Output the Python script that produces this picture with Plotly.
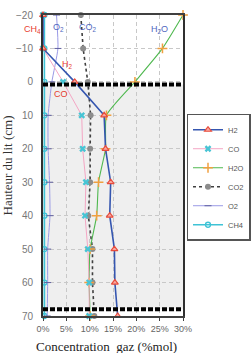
import plotly.graph_objects as go

heights = [-20, -10, 0, 10, 20, 30, 40, 50, 60, 70]
h2 = [0, 0, 6.8, 13.1, 13.4, 14.5, 14.3, 15.3, 15.4, 16.0]
co = [0, 0, 4.3, 8.3, 8.5, 9.2, 9.0, 9.6, 9.9, 9.9]
h2o = [30, 25.6, 19.7, 13.6, 13.4, 11.9, 11.5, 10.1, 9.9, 10.1]
co2 = [8.1, 8.6, 9.6, 10.2, 10.1, 10.1, 9.7, 10.6, 10.6, 11.0]
o2 = [2.9, 3.2, 1.9, 1.1, 1.1, 1.4, 1.5, 1.0, 1.0, 0.9]
ch4 = [0.3, 0.3, 0.3, 0.3, 0.3, 0.3, 0.3, 0.3, 0.3, 0.3]
x_ticks = [0, 5, 10, 15, 20, 25, 30]
x_ticktext = ["0%", "5%", "10%", "15%", "20%", "25%", "30%"]
y_ticks = [-20, -10, 0, 10, 20, 30, 40, 50, 60, 70]
bed_top, bed_bottom = 0.8, 68

fig = go.Figure()

def add(name, x, color, width, marker, dash="solid", shape="linear"):
    fig.add_trace(go.Scatter(
        x=x, y=heights, name=name, mode="lines+markers",
        line=dict(color=color, width=width, dash=dash, shape=shape, smoothing=0.5),
        marker=marker, cliponaxis=False, legendgroup=name))

add("CH4", ch4, "#3fc3d6", 1.6,
    dict(symbol="circle-open", size=5, color="#3fc3d6", line=dict(width=1.3)))
add("O2", o2, "#9a9ae6", 1.0,
    dict(symbol="line-ew", size=5, color="#6060a0", line=dict(width=1, color="#6060a0")), shape="spline")
add("CO2", co2, "#404040", 1.6,
    dict(symbol="circle", size=6, color="#8c8c8c"), dash="dot")
add("H2O", h2o, "#4fb84f", 1.1,
    dict(symbol="cross-thin", size=7, color="#f0a040", line=dict(width=1.5, color="#f0a040")), shape="spline")
add("CO", co, "#f4a6c4", 1.0,
    dict(symbol="x", size=6, color="#48c4d4", line=dict(width=0)))
add("H2", h2, "#3556b0", 1.6,
    dict(symbol="triangle-up", size=6, color="#f8a8a0", line=dict(width=1.2, color="#e84c3c")))

shapes = [
    dict(type="rect", xref="x", yref="y", x0=0, x1=30, y0=bed_top, y1=bed_bottom,
         fillcolor="#efefef", line=dict(width=0), layer="below"),
    dict(type="line", xref="x", yref="y", x0=0, x1=30, y0=bed_top, y1=bed_top,
         line=dict(color="black", width=4, dash="5px,2px")),
    dict(type="line", xref="x", yref="y", x0=0, x1=30, y0=bed_bottom, y1=bed_bottom,
         line=dict(color="black", width=4, dash="5px,2px")),
]

def lab(text, x, y, color, xref="x"):
    return dict(text=text, x=x, y=y, xref=xref, yref="y", showarrow=False,
                font=dict(family="Arial, Liberation Sans", size=9, color=color))

annotations = [
    lab("CH<sub>4</sub>", -0.15, -15.6, "#e84030", xref="paper"),
    lab("O<sub>2</sub>", 3.4, -16.3, "#5068c0"),
    lab("CO<sub>2</sub>", 9.6, -16.3, "#5068c0"),
    lab("H<sub>2</sub>", 5.3, -5.2, "#e84030"),
    lab("CO", 3.9, 3.6, "#e84030"),
    lab("H<sub>2</sub>O", 25.0, -15.6, "#5068c0"),
    dict(text="Concentration  gaz (%mol)", x=0.45, y=-0.1, xref="paper", yref="paper",
         showarrow=False, xanchor="center", yanchor="middle",
         font=dict(family="Liberation Serif, Times New Roman", size=13, color="#222")),
]

fig.update_layout(
    width=251, height=353,
    margin=dict(l=43, r=68, t=15, b=37, autoexpand=False),
    paper_bgcolor="white", plot_bgcolor="white",
    shapes=shapes, annotations=annotations,
    showlegend=True,
    legend=dict(x=1.025, y=0.672, xanchor="left", yanchor="top",
                traceorder="reversed", bgcolor="white",
                bordercolor="#555", borderwidth=1.5,
                font=dict(family="Arial, Liberation Sans", size=7.5, color="#555"),
                tracegroupgap=0, itemwidth=30),
    xaxis=dict(range=[0, 30], tickvals=x_ticks, ticktext=x_ticktext,
               showgrid=True, gridcolor="#c8c8c8", griddash="4px,3px", gridwidth=1,
               showline=True, linecolor="#404040", linewidth=1.5, mirror=True,
               ticks="outside", ticklen=3, tickcolor="#404040",
               tickfont=dict(family="Arial, Liberation Sans", size=9, color="#666"),
               zeroline=False),
    yaxis=dict(range=[70, -20], tickvals=y_ticks,
               showgrid=True, gridcolor="#c8c8c8", griddash="4px,3px", gridwidth=1,
               showline=True, linecolor="#303030", linewidth=2, mirror=True,
               ticks="", ticklabelstandoff=6,
               tickfont=dict(family="Arial, Liberation Sans", size=10, color="#777"),
               title=dict(text="Hauteur du lit (cm)", standoff=12,
                          font=dict(family="Liberation Serif, Times New Roman", size=13, color="#333")),
               zeroline=False),
)

fig.write_html("out.html")
